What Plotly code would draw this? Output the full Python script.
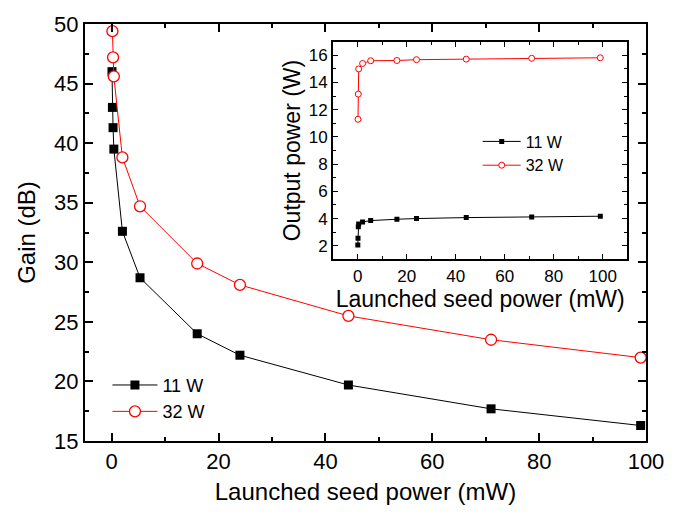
import plotly.graph_objects as go

# Launched seed power (mW) for each measurement
seed_11w = [0.05, 0.13, 0.25, 0.40, 2.0, 5.3, 16.0, 24.0, 44.3, 71.0, 99.0]
seed_32w = [0.13, 0.25, 0.40, 2.0, 5.3, 16.0, 24.0, 44.3, 71.0, 99.0]

# Gain (dB) for the 11 W and 32 W pump settings
gain_11w = [46.0, 43.0, 41.3, 39.5, 32.6, 28.7, 24.0, 22.2, 19.7, 17.7, 16.3]
gain_32w = [49.4, 47.2, 45.6, 38.8, 34.7, 29.9, 28.1, 25.5, 23.5, 22.0]

# Output power (W) shown in the inset
pout_11w = [2.05, 2.55, 3.40, 3.60, 3.75, 3.85, 3.95, 4.00, 4.07, 4.12, 4.17]
pout_32w = [11.3, 13.15, 15.0, 15.4, 15.6, 15.62, 15.68, 15.72, 15.78, 15.82]

series_names = ["11 W", "32 W"]
x_ticks_main = [0, 20, 40, 60, 80, 100]
y_ticks_main = [15, 20, 25, 30, 35, 40, 45, 50]
x_ticks_inset = [0, 20, 40, 60, 80, 100]
y_ticks_inset = [2, 4, 6, 8, 10, 12, 14, 16]

FONT = "Liberation Sans, Arial, sans-serif"
RED = "#ff0000"

fig = go.Figure()

# Main plot: gain
fig.add_trace(go.Scatter(
    x=seed_11w, y=gain_11w, name=series_names[0], mode="lines+markers",
    line=dict(color="black", width=1),
    marker=dict(symbol="square", size=9, color="black"),
    xaxis="x", yaxis="y", legend="legend",
))
fig.add_trace(go.Scatter(
    x=seed_32w, y=gain_32w, name=series_names[1], mode="lines+markers",
    line=dict(color=RED, width=1),
    marker=dict(symbol="circle", size=11, color="white", line=dict(color=RED, width=1.3)),
    xaxis="x", yaxis="y", legend="legend",
))

# Inset: output power
fig.add_trace(go.Scatter(
    x=seed_11w, y=pout_11w, name=series_names[0], mode="lines+markers",
    line=dict(color="black", width=1),
    marker=dict(symbol="square", size=5, color="black"),
    xaxis="x2", yaxis="y2", legend="legend2",
))
fig.add_trace(go.Scatter(
    x=seed_32w, y=pout_32w, name=series_names[1], mode="lines+markers",
    line=dict(color=RED, width=1),
    marker=dict(symbol="circle", size=6, color="white", line=dict(color=RED, width=1)),
    xaxis="x2", yaxis="y2", legend="legend2",
))

frame = dict(showline=True, linecolor="black", linewidth=2, mirror="ticks",
             ticks="inside", tickcolor="black", showgrid=False, zeroline=False)

fig.update_layout(
    width=676, height=517, autosize=False,
    margin=dict(l=85, r=22, t=17, b=76),
    paper_bgcolor="white", plot_bgcolor="white",
    font=dict(family=FONT, color="black"),
    showlegend=True,
    xaxis=dict(
        **frame, domain=[0, 1], anchor="y", range=[-5, 100],
        tickvals=x_ticks_main, ticklen=8, tickwidth=1.5,
        minor=dict(dtick=10, tick0=0, ticks="inside", ticklen=4, tickwidth=1.5, tickcolor="black"),
        tickfont=dict(size=22),
        title=dict(text="Launched seed power (mW)", font=dict(size=24), standoff=10),
    ),
    yaxis=dict(
        **frame, domain=[0, 1], anchor="x", range=[15, 50],
        tickvals=y_ticks_main, ticklen=8, tickwidth=1.5,
        minor=dict(dtick=2.5, tick0=15, ticks="inside", ticklen=4, tickwidth=1.5, tickcolor="black"),
        tickfont=dict(size=22),
        title=dict(text="Gain (dB)", font=dict(size=24), standoff=12),
    ),
    xaxis2=dict(
        **frame, domain=[0.4424, 0.9666], anchor="y2", range=[-10, 110],
        tickvals=x_ticks_inset, ticklen=5, tickwidth=1.2,
        minor=dict(dtick=10, tick0=0, ticks="inside", ticklen=3, tickwidth=1.2, tickcolor="black"),
        tickfont=dict(size=17),
        title=dict(text="Launched seed power (mW)", font=dict(size=23), standoff=0),
    ),
    yaxis2=dict(
        **frame, domain=[0.4356, 0.9575], anchor="x2", range=[1, 17],
        tickvals=y_ticks_inset, ticklen=5, tickwidth=1.2,
        minor=dict(dtick=1, tick0=1, ticks="inside", ticklen=3, tickwidth=1.2, tickcolor="black"),
        tickfont=dict(size=17),
        title=dict(text="Output power (W)", font=dict(size=23), standoff=2),
    ),
    legend=dict(
        x=0.04, y=0.178, xanchor="left", yanchor="top", itemwidth=45,
        bgcolor="rgba(0,0,0,0)", font=dict(size=18), tracegroupgap=0,
    ),
    legend2=dict(
        x=0.70, y=0.759, xanchor="left", yanchor="top", itemwidth=38,
        bgcolor="rgba(0,0,0,0)", font=dict(size=16), tracegroupgap=0,
    ),
)

fig.write_html("out.html")
